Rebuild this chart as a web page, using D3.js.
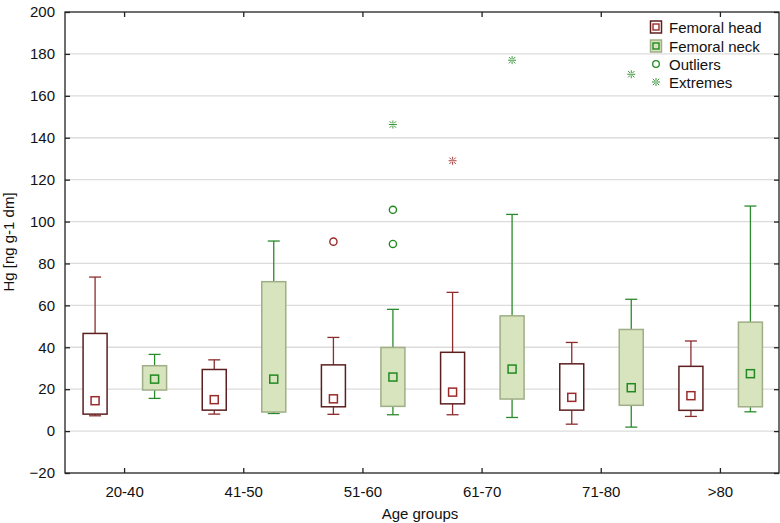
<!DOCTYPE html>
<html><head><meta charset="utf-8">
<script src="https://cdn.jsdelivr.net/npm/d3@7"></script>
<style>body{margin:0;background:#fff}svg{display:block}text{font-family:"Liberation Sans",Arial,sans-serif}</style>
</head><body><svg id="c" width="780" height="523"></svg>
<script>
const categories = ["20-40","41-50","51-60","61-70","71-80",">80"];
const yTicks = [-20,0,20,40,60,80,100,120,140,160,180,200];
// Femoral head: [whiskerLow, q1, center, q3, whiskerHigh]
const headLow  = [7.3, 8.1, 8.0, 7.8, 3.3, 7.0];
const headQ1   = [8.1, 10.0, 11.6, 13.0, 10.0, 9.9];
const headMid  = [14.5, 15.0, 15.4, 18.6, 16.1, 16.9];
const headQ3   = [46.6, 29.4, 31.6, 37.6, 32.1, 30.9];
const headHigh = [73.5, 34.0, 44.7, 66.2, 42.3, 43.0];
// Femoral neck
const neckLow  = [15.6, 8.4, 7.8, 6.5, 1.9, 9.2];
const neckQ1   = [19.6, 9.1, 11.8, 15.3, 12.3, 11.6];
const neckMid  = [24.8, 24.8, 25.8, 29.6, 20.7, 27.4];
const neckQ3   = [31.2, 71.3, 39.9, 55.0, 48.5, 52.0];
const neckHigh = [36.6, 90.7, 58.1, 103.4, 62.9, 107.4];
// outliers / extremes: [categoryIndex, value]
const headOutliers = [[2, 90.4]];
const headExtremes = [[3, 129.0]];
const neckOutliers = [[2, 105.6],[2, 89.3]];
const neckExtremes = [[2, 146.3],[3, 177.0],[4, 170.3]];

const svg = d3.select("#c");
const m = {l:65, r:780, t:12, b:473};
const x = d3.scaleBand().domain(categories).range([m.l, m.r]);
const y = d3.scaleLinear().domain([-20,200]).range([m.b, m.t]);
const off = {head:-29.5, neck:30};
const bw = 24, cap = 12;

const headC = {stroke:"#5c1f1f", whisk:"#8c2d2d", fill:"#fff", mark:"#9b2a2a"};
const neckC = {stroke:"#9fae86", whisk:"#2b8a2b", fill:"#d7e4bd", mark:"#218a21"};

// grid
svg.append("g").selectAll("line").data(yTicks.filter(d=>d>-20&&d<200)).join("line")
  .attr("x1",m.l).attr("x2",m.r-1).attr("y1",d=>y(d)).attr("y2",d=>y(d))
  .attr("stroke","#dcdcdc").attr("stroke-width",1.3);

function drawSeries(low,q1,mid,q3,high,c,o){
  const g = svg.append("g");
  categories.forEach((cat,i)=>{
    const cx = x(cat)+x.bandwidth()/2+o;
    g.append("line").attr("x1",cx).attr("x2",cx).attr("y1",y(q3[i])).attr("y2",y(high[i])).attr("stroke",c.whisk).attr("stroke-width",1.3);
    g.append("line").attr("x1",cx).attr("x2",cx).attr("y1",y(q1[i])).attr("y2",y(low[i])).attr("stroke",c.whisk).attr("stroke-width",1.3);
    g.append("line").attr("x1",cx-cap/2).attr("x2",cx+cap/2).attr("y1",y(high[i])).attr("y2",y(high[i])).attr("stroke",c.whisk).attr("stroke-width",1.3);
    g.append("line").attr("x1",cx-cap/2).attr("x2",cx+cap/2).attr("y1",y(low[i])).attr("y2",y(low[i])).attr("stroke",c.whisk).attr("stroke-width",1.3);
    g.append("rect").attr("x",cx-bw/2).attr("width",bw).attr("y",y(q3[i])).attr("height",y(q1[i])-y(q3[i]))
      .attr("fill",c.fill).attr("stroke",c.stroke).attr("stroke-width",1.5);
    g.append("rect").attr("x",cx-4).attr("y",y(mid[i])-4).attr("width",8).attr("height",8)
      .attr("fill","none").attr("stroke",c.mark).attr("stroke-width",1.5);
  });
}
drawSeries(headLow,headQ1,headMid,headQ3,headHigh,headC,off.head);
drawSeries(neckLow,neckQ1,neckMid,neckQ3,neckHigh,neckC,off.neck);

function star(g,cx,cy,col){
  const s=4, a=1.2, d=3.2;
  const p = `M${cx-s},${cy}H${cx+s}M${cx},${cy-s}V${cy-a}M${cx},${cy+a}V${cy+s}`+
    `M${cx-d},${cy-d}L${cx-a},${cy-a}M${cx+d},${cy-d}L${cx+a},${cy-a}M${cx-d},${cy+d}L${cx-a},${cy+a}M${cx+d},${cy+d}L${cx+a},${cy+a}`;
  g.append("path").attr("d",p).attr("stroke",col).attr("stroke-width",0.9).attr("fill","none");
}
function drawPts(outl,ext,c,o){
  const g = svg.append("g");
  outl.forEach(([i,v])=>{
    g.append("circle").attr("cx",x(categories[i])+x.bandwidth()/2+o).attr("cy",y(v)).attr("r",3.6)
      .attr("fill","none").attr("stroke",c.mark).attr("stroke-width",1.4);
  });
  ext.forEach(([i,v])=>star(g,x(categories[i])+x.bandwidth()/2+o,y(v),c.mark));
}
drawPts(headOutliers,headExtremes,headC,off.head);
drawPts(neckOutliers,neckExtremes,neckC,off.neck);

// frame
svg.append("rect").attr("x",m.l).attr("y",m.t).attr("width",m.r-1-m.l).attr("height",m.b-m.t)
  .attr("fill","none").attr("stroke","#222").attr("stroke-width",1.3);

// axes
const yAx = svg.append("g").attr("transform",`translate(${m.l},0)`)
  .call(d3.axisLeft(y).tickValues(yTicks).tickSize(-5).tickPadding(10));
const yAxR = svg.append("g").attr("transform",`translate(${m.r-1},0)`)
  .call(d3.axisRight(y).tickValues(yTicks).tickSize(-5).tickFormat(""));
const xAx = svg.append("g").attr("transform",`translate(0,${m.b})`)
  .call(d3.axisBottom(x).tickSize(-5).tickPadding(13));
const xAxT = svg.append("g").attr("transform",`translate(0,${m.t})`)
  .call(d3.axisTop(x).tickSize(-5).tickFormat(""));
[yAx,yAxR,xAx,xAxT].forEach(a=>{
  a.select(".domain").remove();
  a.selectAll(".tick line").attr("stroke","#222").attr("stroke-width",1.3);
  a.selectAll("text").attr("font-size",15).attr("fill","#111").style("font-family","'Liberation Sans',Arial,sans-serif");
});

// titles
svg.append("text").attr("x",420).attr("y",519).attr("text-anchor","middle").attr("font-size",15).attr("fill","#111").text("Age groups");
svg.append("text").attr("transform","translate(14,242) rotate(-90)").attr("text-anchor","middle").attr("font-size",15).attr("fill","#111").text("Hg [ng g-1 dm]");

// legend
const lg = svg.append("g");
const lx = 656, ly = [27, 46, 64, 82];
lg.append("rect").attr("x",lx-5.5).attr("y",ly[0]-6).attr("width",11).attr("height",12).attr("fill","#fff").attr("stroke",headC.stroke).attr("stroke-width",1.5);
lg.append("rect").attr("x",lx-3).attr("y",ly[0]-3).attr("width",6).attr("height",6).attr("fill","none").attr("stroke",headC.mark).attr("stroke-width",1.4);
lg.append("rect").attr("x",lx-5.5).attr("y",ly[1]-6).attr("width",11).attr("height",12).attr("fill",neckC.fill).attr("stroke",neckC.stroke).attr("stroke-width",1.5);
lg.append("rect").attr("x",lx-3).attr("y",ly[1]-3).attr("width",6).attr("height",6).attr("fill","none").attr("stroke",neckC.mark).attr("stroke-width",1.4);
lg.append("circle").attr("cx",lx).attr("cy",ly[2]).attr("r",3.3).attr("fill","none").attr("stroke",neckC.mark).attr("stroke-width",1.3);
star(lg,lx,ly[3],neckC.mark);
const labels = ["Femoral head","Femoral neck","Outliers","Extremes"];
labels.forEach((t,i)=>lg.append("text").attr("x",669).attr("y",ly[i]+5.5).attr("font-size",15).attr("fill","#111").text(t));
</script></body></html>
